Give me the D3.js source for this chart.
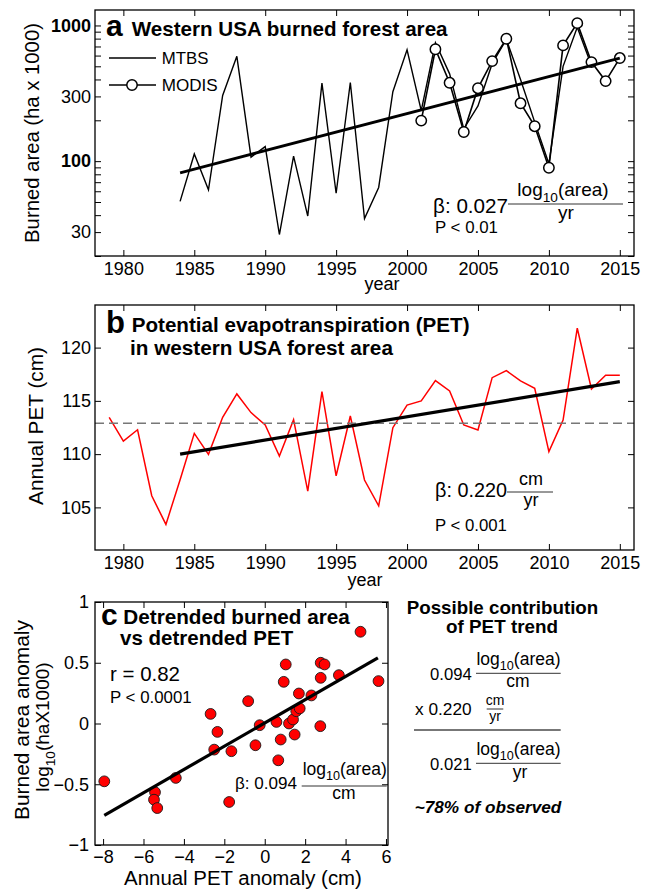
<!DOCTYPE html>
<html><head><meta charset="utf-8">
<script src="https://cdn.jsdelivr.net/npm/d3@7"></script>
<style>body{margin:0;background:#fff}svg{display:block}text{font-family:"Liberation Sans",Arial,Helvetica,sans-serif;fill:#000}</style>
</head><body><svg id="chart" width="651" height="892"></svg>
<script>
// ---------- DATA ----------
const mtbsYears = [1984,1985,1986,1987,1988,1989,1990,1991,1992,1993,1994,1995,1996,1997,1998,1999,2000,2001,2002,2003,2004,2005,2006,2007,2008,2009,2010,2011,2012,2013];
const mtbsArea  = [50.5,113,61.5,305,592,107,128,28.8,109,39.4,376,58,380,37.7,64,325,662,236,745,440,173,255,523,790,400,194,95.7,500,970,507];
const modisYears = [2001,2002,2003,2004,2005,2006,2007,2008,2009,2010,2011,2012,2013,2014,2015];
const modisArea  = [199,668,378,164,345,546,798,267,181,89.4,713,1040,537,389,575];
const areaTrendYears = [1984,2015];
const areaTrendVals  = [82,575];

const petYears = [1979,1980,1981,1982,1983,1984,1985,1986,1987,1988,1989,1990,1991,1992,1993,1994,1995,1996,1997,1998,1999,2000,2001,2002,2003,2004,2005,2006,2007,2008,2009,2010,2011,2012,2013,2014,2015];
const petVals  = [113.46,111.23,112.29,106.09,103.4,107.6,111.95,109.98,113.46,115.65,113.9,112.74,109.82,113.23,106.53,115.87,107.97,113.58,107.57,105.15,112.48,114.61,114.99,116.9,115.93,112.74,112.27,117.18,117.84,116.87,116.18,110.23,113.2,121.82,116.12,117.41,117.41];
const petMean = 112.9;
const petTrendYears = [1984,2015];
const petTrendVals  = [110.0,116.8];

const petAnom  = [-7.94,-5.43,-5.48,-5.32,-4.40,-2.68,-2.34,-2.50,-1.65,-1.76,-0.82,-0.46,-0.25,0.58,0.67,0.79,0.94,1.04,1.20,1.40,1.48,1.56,1.73,1.69,2.31,2.77,2.96,2.77,2.75,3.67,4.74,5.63];
const areaAnom = [-0.476,-0.566,-0.627,-0.696,-0.448,0.079,-0.069,-0.215,-0.228,-0.646,0.184,-0.179,-0.014,0.013,-0.303,-0.132,0.343,0.486,0.0,0.033,-0.091,0.101,0.124,0.247,0.231,0.5,0.486,0.376,-0.022,0.398,0.755,0.349];
const regX = [-7.94,5.6];
const regY = [-0.756,0.541];

const yearTicks = [1980,1985,1990,1995,2000,2005,2010,2015];
const areaTickLabels = [30,100,300,1000];
const areaBoldTicks = [100,1000];
const areaMinorTicks = [20,30,40,50,60,70,80,90,100,200,300,400,500,600,700,800,900,1000];
const petTicks = [105,110,115,120];
const anomXTicks = [-8,-6,-4,-2,0,2,4,6];
const anomYTicks = [-1,-0.5,0,0.5,1];

// ---------- HELPERS ----------
const svg = d3.select("#chart");
svg.append("rect").attr("width",651).attr("height",892).attr("fill","#fff");
const FONT = '"Liberation Sans",Arial,Helvetica,sans-serif';

function fit(t, w){
  const m = t.node().getComputedTextLength();
  const fs = parseFloat(t.attr("font-size"));
  if (m > 0) t.attr("font-size", fs * w / m);
  return t;
}
function txt(x, y, s, fs, opt={}){
  const t = svg.append("text").attr("x",x).attr("y",y).attr("font-size",fs)
    .attr("text-anchor",opt.anchor||"start")
    .attr("font-weight",opt.bold?"bold":"normal")
    .attr("font-style",opt.italic?"italic":"normal").text(s);
  if (opt.w) fit(t, opt.w);
  return t;
}
function logArea(x, y, fs){
  const t = svg.append("text").attr("x",x).attr("y",y).attr("text-anchor","middle").attr("font-size",fs);
  t.append("tspan").text("log");
  t.append("tspan").attr("font-size",fs*0.72).attr("dy",fs*0.3).text("10");
  t.append("tspan").attr("dy",-fs*0.3).text("(area)");
  return t;
}
function hline(x1,x2,y,w=1,c="#000"){
  svg.append("line").attr("x1",x1).attr("x2",x2).attr("y1",y).attr("y2",y).attr("stroke",c).attr("stroke-width",w);
}
function styleAxis(g, fs){
  g.select(".domain").remove();
  g.attr("font-family",FONT).attr("font-size",fs);
  g.selectAll(".tick line").attr("stroke","#000").attr("stroke-width",1);
  g.selectAll(".tick text").attr("fill","#000");
}
function frame(x0,y0,x1,y1){
  svg.append("rect").attr("x",x0).attr("y",y0).attr("width",x1-x0).attr("height",y1-y0)
    .attr("fill","none").attr("stroke","#000").attr("stroke-width",1.3);
}

// ---------- PANEL A ----------
const aL=95,aR=634,aT=10,aB=256;
const xA = d3.scaleLinear().domain([1978,2016]).range([aL,aR]);
const yA = d3.scaleLog().domain([20,1300]).range([aB,aT]);

svg.append("g").attr("transform",`translate(0,${aB})`)
  .call(d3.axisBottom(xA).tickValues(yearTicks).tickFormat(d3.format("d")).tickSize(-6).tickPadding(6))
  .call(g=>styleAxis(g,18));
svg.append("g").attr("transform",`translate(0,${aT})`)
  .call(d3.axisTop(xA).tickValues(yearTicks).tickFormat("").tickSize(-6))
  .call(g=>styleAxis(g,18));
svg.append("g").attr("transform",`translate(${aL},0)`)
  .call(d3.axisLeft(yA).tickValues(areaMinorTicks).tickFormat(d=>areaTickLabels.includes(d)?String(d):"").tickSize(-6).tickPadding(4))
  .call(g=>styleAxis(g,18))
  .call(g=>g.selectAll(".tick text").attr("font-weight",d=>areaBoldTicks.includes(d)?"bold":"normal"));
svg.append("g").attr("transform",`translate(${aR},0)`)
  .call(d3.axisRight(yA).tickValues(areaMinorTicks).tickFormat("").tickSize(-6))
  .call(g=>styleAxis(g,18));

const lineA = d3.line().x(d=>xA(d[0])).y(d=>yA(d[1]));
svg.append("path").datum(mtbsYears.map((y,i)=>[y,mtbsArea[i]])).attr("d",lineA)
  .attr("fill","none").attr("stroke","#000").attr("stroke-width",1.4).attr("stroke-linejoin","miter");
const modis = modisYears.map((y,i)=>[y,modisArea[i]]);
svg.append("path").datum(modis).attr("d",lineA)
  .attr("fill","none").attr("stroke","#000").attr("stroke-width",1.6);
svg.selectAll(".modisPt").data(modis).enter().append("circle")
  .attr("cx",d=>xA(d[0])).attr("cy",d=>yA(d[1])).attr("r",5.2)
  .attr("fill","#fff").attr("stroke","#000").attr("stroke-width",1.5);
svg.append("path").datum(areaTrendYears.map((y,i)=>[y,areaTrendVals[i]])).attr("d",lineA)
  .attr("fill","none").attr("stroke","#000").attr("stroke-width",2.8);
frame(aL,aT,aR,aB);

txt(106,36,"a",30,{bold:true});
txt(131.7,36,"Western USA burned forest area",20.5,{bold:true,w:316});
hline(109,156,58,1.5);
txt(161.7,64,"MTBS",17,{w:46.7});
hline(109,156,85,1.5);
svg.append("circle").attr("cx",132).attr("cy",85).attr("r",5.2).attr("fill","#fff").attr("stroke","#000").attr("stroke-width",1.5);
txt(161.7,91,"MODIS",17,{w:56});
txt(0,0,"Burned area (ha x 1000)",19,{anchor:"middle",w:220}).attr("transform","translate(39,133) rotate(-90)");
txt(382,290,"year",18,{anchor:"middle"});
txt(508,213,"β: 0.027",20,{anchor:"end",w:75});
hline(508,623,204,1,"#333");
logArea(563,196,19);
txt(566,219,"yr",19,{anchor:"middle"});
txt(435,233,"P < 0.01",15.5,{w:63});

// ---------- PANEL B ----------
const bL=95,bR=634,bT=305,bB=550;
const xB = d3.scaleLinear().domain([1978,2016]).range([bL,bR]);
const yB = d3.scaleLinear().domain([101,124]).range([bB,bT]);
svg.append("g").attr("transform",`translate(0,${bB})`)
  .call(d3.axisBottom(xB).tickValues(yearTicks).tickFormat(d3.format("d")).tickSize(-6).tickPadding(6))
  .call(g=>styleAxis(g,18));
svg.append("g").attr("transform",`translate(0,${bT})`)
  .call(d3.axisTop(xB).tickValues(yearTicks).tickFormat("").tickSize(-6))
  .call(g=>styleAxis(g,18));
svg.append("g").attr("transform",`translate(${bL},0)`)
  .call(d3.axisLeft(yB).tickValues(petTicks).tickSize(-6).tickPadding(4))
  .call(g=>styleAxis(g,18));
svg.append("g").attr("transform",`translate(${bR},0)`)
  .call(d3.axisRight(yB).tickValues(petTicks).tickFormat("").tickSize(-6))
  .call(g=>styleAxis(g,18));

const lineB = d3.line().x(d=>xB(d[0])).y(d=>yB(d[1]));
svg.append("path").datum(petYears.map((y,i)=>[y,petVals[i]])).attr("d",lineB)
  .attr("fill","none").attr("stroke","#ff0000").attr("stroke-width",1.5);
svg.append("line").attr("x1",bL).attr("x2",bR).attr("y1",yB(petMean)).attr("y2",yB(petMean))
  .attr("stroke","#777").attr("stroke-width",1.5).attr("stroke-dasharray","9,5");
svg.append("path").datum(petTrendYears.map((y,i)=>[y,petTrendVals[i]])).attr("d",lineB)
  .attr("fill","none").attr("stroke","#000").attr("stroke-width",3.2);
frame(bL,bT,bR,bB);

txt(106,333,"b",31,{bold:true});
txt(131.7,332,"Potential evapotranspiration (PET)",20,{bold:true,w:338});
txt(130,355,"in western USA forest area",20,{bold:true,w:263});
txt(0,0,"Annual PET (cm)",19,{anchor:"middle",w:158}).attr("transform","translate(43,426) rotate(-90)");
txt(365,586,"year",18,{anchor:"middle"});
txt(507,497,"β: 0.220",20,{anchor:"end",w:72});
hline(507,553,492,1,"#333");
txt(531,485,"cm",18,{anchor:"middle"});
txt(531,506,"yr",18,{anchor:"middle"});
txt(435,531,"P < 0.001",15.5,{w:72});

// ---------- PANEL C ----------
const cL=95,cR=388,cT=602,cB=845;
const xC = d3.scaleLinear().domain([-8.4,6.1]).range([cL,cR]);
const yC = d3.scaleLinear().domain([-1,1]).range([cB,cT]);
const fmtC = d => d===0 ? "0" : String(d).replace("-","\u2212");
svg.append("g").attr("transform",`translate(0,${cB})`)
  .call(d3.axisBottom(xC).tickValues(anomXTicks).tickFormat(fmtC).tickSize(-6).tickPadding(5))
  .call(g=>styleAxis(g,18));
svg.append("g").attr("transform",`translate(0,${cT})`)
  .call(d3.axisTop(xC).tickValues(anomXTicks).tickFormat("").tickSize(-6))
  .call(g=>styleAxis(g,18));
svg.append("g").attr("transform",`translate(${cL},0)`)
  .call(d3.axisLeft(yC).tickValues(anomYTicks).tickFormat(fmtC).tickSize(-6).tickPadding(6))
  .call(g=>styleAxis(g,18));
svg.append("g").attr("transform",`translate(${cR},0)`)
  .call(d3.axisRight(yC).tickValues(anomYTicks).tickFormat("").tickSize(-6))
  .call(g=>styleAxis(g,18));

svg.selectAll(".sc").data(petAnom.map((x,i)=>[x,areaAnom[i]])).enter().append("circle")
  .attr("cx",d=>xC(d[0])).attr("cy",d=>yC(d[1])).attr("r",5.4)
  .attr("fill","#ff0000").attr("stroke","#1a1a1a").attr("stroke-width",0.9);
svg.append("path").datum(regX.map((x,i)=>[x,regY[i]]))
  .attr("d",d3.line().x(d=>xC(d[0])).y(d=>yC(d[1])))
  .attr("fill","none").attr("stroke","#000").attr("stroke-width",3.2);
frame(cL,cT,cR,cB);

txt(101,625,"c",30,{bold:true});
txt(123.3,624,"Detrended burned area",20,{bold:true,w:226.7});
txt(120,645,"vs detrended PET",20,{bold:true,w:173.3});
txt(110,680.7,"r = 0.82",19,{w:70});
txt(110,703,"P < 0.0001",16.5,{w:81.7});
txt(297,789,"β: 0.094",17,{anchor:"end",w:62});
hline(301.7,386.7,786,1,"#333");
logArea(344.7,775,17.5);
txt(344,799,"cm",17.5,{anchor:"middle"});
txt(0,0,"Burned area anomaly",19,{anchor:"middle",w:200}).attr("transform","translate(29,720) rotate(-90)");
(function(){
  const fs=19;
  const t = svg.append("text").attr("text-anchor","middle").attr("font-size",fs)
    .attr("transform","translate(49,727) rotate(-90)");
  t.append("tspan").text("log");
  t.append("tspan").attr("font-size",fs*0.72).attr("dy",fs*0.3).text("10");
  t.append("tspan").attr("dy",-fs*0.3).text("(haX1000)");
})();
txt(243,885,"Annual PET anomaly (cm)",17.5,{anchor:"middle",w:238});

// ---------- RIGHT TEXT BLOCK ----------
txt(502.5,614,"Possible contribution",17,{anchor:"middle",bold:true,w:191.6});
txt(502,633,"of PET trend",17,{anchor:"middle",bold:true,w:112});
txt(430,680,"0.094",17,{w:41.7});
logArea(518.5,665,17.5);
hline(476,560.7,673.3,1,"#333");
txt(518,687,"cm",17.5,{anchor:"middle"});
txt(415,715,"x 0.220",17,{w:56.7});
txt(495,705,"cm",14,{anchor:"middle"});
hline(486.7,503.3,709,1,"#333");
txt(495,721,"yr",14,{anchor:"middle"});
hline(414,560.7,730,2,"#777");
txt(430,770,"0.021",17,{w:41.7});
logArea(518.5,755,17.5);
hline(476,560.7,763.3,1,"#333");
txt(520,778,"yr",17.5,{anchor:"middle"});
txt(488,813,"~78% of observed",16,{anchor:"middle",bold:true,italic:true,w:146.7});
</script></body></html>
